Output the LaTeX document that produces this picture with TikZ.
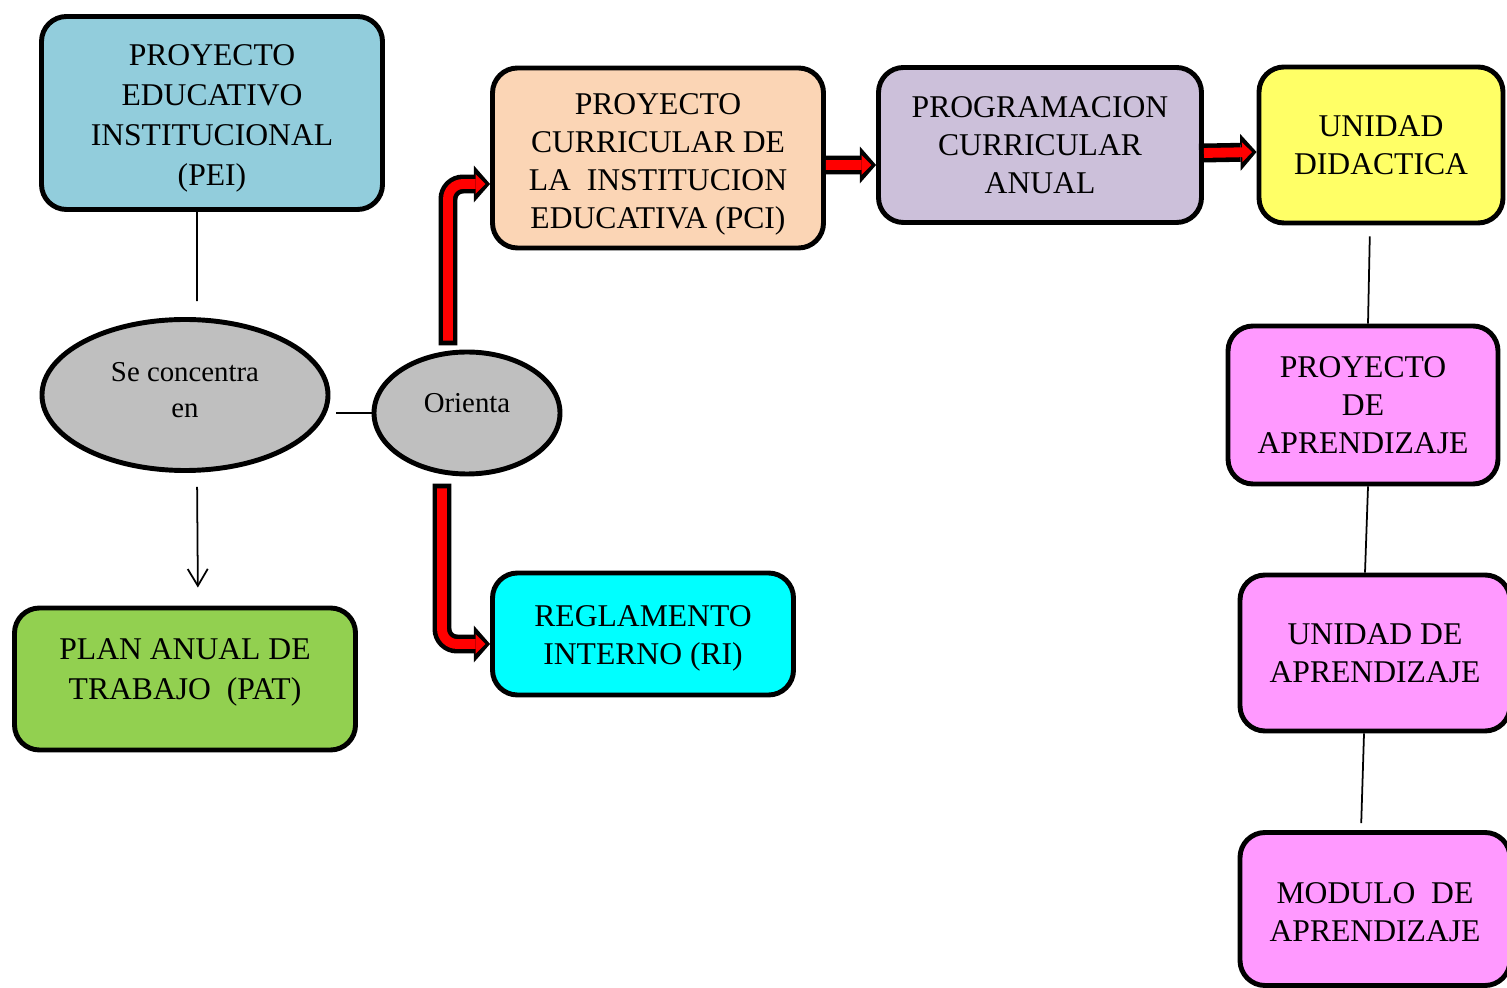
\documentclass[tikz,border=0pt]{standalone}
\usepackage{fontspec}
\setmainfont{Liberation Serif}
\usepackage{xcolor}
\usetikzlibrary{shapes,arrows.meta,positioning}

\definecolor{peiblue}{HTML}{92CDDC}
\definecolor{patgreen}{HTML}{92D050}
\definecolor{pcipeach}{HTML}{FBD5B5}
\definecolor{ricyan}{HTML}{00FFFF}
\definecolor{pcalilac}{HTML}{CCC0DA}
\definecolor{udyellow}{HTML}{FFFF66}
\definecolor{apink}{HTML}{FF99FF}
\definecolor{ovalgray}{HTML}{BFBFBF}

% invisible struts to nudge text inside a node
\newcommand{\topstrut}[1]{\rule{0pt}{#1}}
\newcommand{\botstrut}[1]{\rule[-#1]{0pt}{0pt}}

\begin{document}
\begin{tikzpicture}[node distance=2.8cm,
    box/.style={draw, rectangle, rounded corners=0.25cm, line width=1.4pt, align=center, inner sep=2pt, font=\fontsize{9}{10.8}\selectfont},
    bubble/.style={draw, ellipse, fill=ovalgray, line width=1.4pt, align=center, inner sep=0pt, font=\fontsize{8.2}{10.5}\selectfont},
    link/.style={line width=0.5pt},
    redcase/.style={draw=black, line width=5.4pt, shorten <=-1.4pt, -{Triangle[length=4.6pt, width=10.5pt, line width=0pt]}},
    redcore/.style={draw=red, line width=2.8pt, shorten >=1.3pt, -{Triangle[length=2.8pt, width=5.6pt, line width=0pt]}}]
    \clip (0,0) rectangle (15.07,-9.88);

    \node[box, fill=peiblue, minimum width=3.41cm, minimum height=1.93cm, font=\fontsize{9}{11.4}\selectfont] (pei) at (2.12,-1.13) {\topstrut{0.31cm}PROYECTO\\EDUCATIVO\\INSTITUCIONAL\\(PEI)};
    \node[bubble, below of=pei, node distance=2.82cm, xshift=-0.27cm, minimum width=2.86cm, minimum height=1.51cm] (se) {Se concentra\\en\botstrut{0.10cm}};
    \node[box, fill=patgreen, below of=se, node distance=2.84cm, minimum width=3.41cm, minimum height=1.42cm, font=\fontsize{9}{11.4}\selectfont] (pat) {PLAN ANUAL DE\\TRABAJO\ \ (PAT)\botstrut{0.20cm}};
    \node[bubble, right of=se, node distance=2.82cm, yshift=-0.18cm, minimum width=1.86cm, minimum height=1.22cm] (orienta) {Orienta\botstrut{0.20cm}};

    \node[box, fill=pcipeach, right of=pei, node distance=4.46cm, yshift=-0.45cm, minimum width=3.31cm, minimum height=1.80cm] (pci) {\topstrut{0.33cm}PROYECTO\\CURRICULAR DE\\LA\ \ INSTITUCION\\EDUCATIVA (PCI)};
    \node[box, fill=ricyan, below of=pci, node distance=4.76cm, xshift=-0.15cm, minimum width=3.01cm, minimum height=1.22cm] (ri) {\topstrut{0.29cm}REGLAMENTO\\INTERNO (RI)};
    \node[box, fill=pcalilac, right of=pci, node distance=3.82cm, yshift=0.13cm, minimum width=3.23cm, minimum height=1.55cm] (pca) {PROGRAMACION\\CURRICULAR\\ANUAL};
    \node[box, fill=udyellow, right of=pca, node distance=3.41cm, minimum width=2.44cm, minimum height=1.56cm] (ud) {UNIDAD\\DIDACTICA};

    \node[box, fill=apink, below of=ud, node distance=2.60cm, xshift=-0.18cm, minimum width=2.70cm, minimum height=1.58cm] (pa) {PROYECTO\\DE\\APRENDIZAJE};
    \node[box, fill=apink, below of=pa, node distance=2.48cm, xshift=0.12cm, minimum width=2.70cm, minimum height=1.56cm] (ua) {UNIDAD DE\\APRENDIZAJE};
    \node[box, fill=apink, below of=ua, node distance=2.56cm, minimum width=2.70cm, minimum height=1.53cm] (ma) {\topstrut{0.27cm}MODULO\ \ DE\\APRENDIZAJE};

    % thin connectors
    \draw[link, shorten >=0.16cm] ([xshift=-0.15cm]pei.south) -- ([xshift=0.12cm]se.north);
    \draw[link, -{Straight Barb[length=4.8pt, width=5.7pt]}, shorten <=0.14cm, shorten >=0.18cm] ([xshift=0.12cm]se.south) -- ([xshift=0.13cm]pat.north);
    \draw[link, shorten <=0.06cm] (se.east |- orienta.west) -- (orienta.west);
    \draw[link, shorten <=0.11cm] ([xshift=-0.11cm]ud.south) -- ([xshift=0.05cm]pa.north);
    \draw[link] ([xshift=0.05cm]pa.south) -- ([xshift=-0.10cm]ua.north);
    \draw[link, shorten >=0.07cm] ([xshift=-0.11cm]ua.south) -- ([xshift=-0.14cm]ma.north);

    % red block arrows
    \foreach \layer in {redcase, redcore} {
        \draw[\layer, rounded corners=0.15cm] ([xshift=-0.19cm, yshift=0.09cm]orienta.north) |- ([yshift=-0.26cm]pci.west);
        \draw[\layer, rounded corners=0.15cm] ([xshift=-0.25cm, yshift=-0.12cm]orienta.south) |- ([yshift=-0.10cm]ri.west);
        \draw[\layer] ([yshift=-0.07cm]pci.east) -- ([yshift=-0.20cm]pca.west);
        \draw[\layer] ([yshift=-0.08cm]pca.east) -- ([yshift=-0.07cm]ud.west);
    }
\end{tikzpicture}
\end{document}
